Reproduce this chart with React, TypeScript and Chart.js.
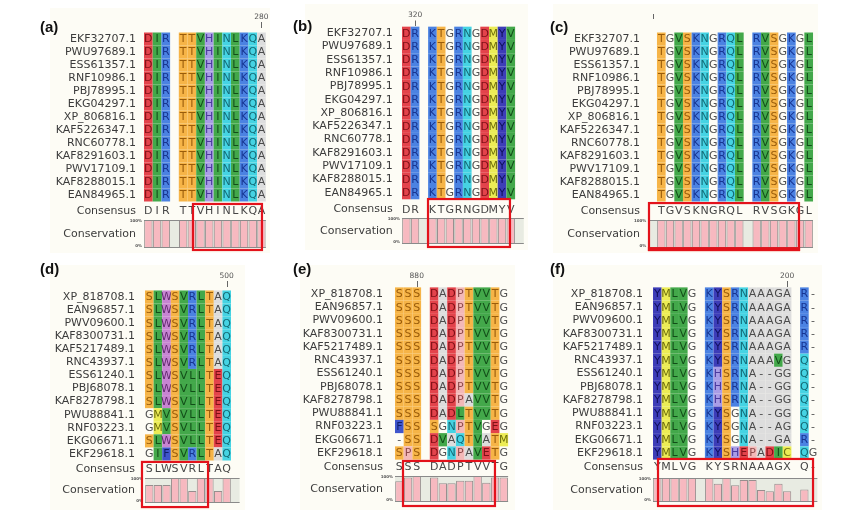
import React, { useEffect, useRef } from 'react';
import { Chart, registerables } from 'chart.js';

Chart.register(...registerables);
Chart.defaults.font.family = '"DejaVu Sans", sans-serif';

// ---------------- DATA ----------------
const NAMES_ABC = [
  'EKF32707.1', 'PWU97689.1', 'ESS61357.1', 'RNF10986.1', 'PBJ78995.1', 'EKG04297.1', 'XP_806816.1',
  'KAF5226347.1', 'RNC60778.1', 'KAF8291603.1', 'PWV17109.1', 'KAF8288015.1', 'EAN84965.1',
];
const NAMES_DEF = [
  'XP_818708.1', 'EAN96857.1', 'PWV09600.1', 'KAF8300731.1', 'KAF5217489.1', 'RNC43937.1', 'ESS61240.1',
  'PBJ68078.1', 'KAF8278798.1', 'PWU88841.1', 'RNF03223.1', 'EKG06671.1', 'EKF29618.1',
];

// "_" = alignment column with no residue drawn
const SEQ_A = [
  'DIR_TTVHINLKQA', 'DIR_TTVHINLKQA', 'DIR_TTVHINLKQA', 'DIR_TTVHINLKQA', 'DIR_TTVHINLKQA',
  'DIR_TTVHINLKQA', 'DIR_TTVHINLKQA', 'DIR_TTVHINLKQA', 'DIR_TTVHINLKQA', 'DIR_TTVHINLKQA',
  'DIR_TTVHINLKQA', 'DIR_TTVHINLKQA', 'DIR_TTVHINLKQA',
];
const CONSENSUS_A = 'DIR TTVHINLKQA';
const CONSERVATION_A = [100, 100, 100, null, 100, 100, 100, 100, 100, 100, 100, 100, 100, 100];
const TICK_A = { col: 13, label: '280' };

const SEQ_B = [
  'DR_KTGRNGDMYV_', 'DR_KTGRNGDMYV_', 'DR_KTGRNGDMYV_', 'DR_KTGRNGDMYV_', 'DR_KTGRNGDMYV_',
  'DR_KTGRNGDMYV_', 'DR_KTGRNGDMYV_', 'DR_KTGRNGDMYV_', 'DR_KTGRNGDMYV_', 'DR_KTGRNGDMYV_',
  'DR_KTGRNGDMYV_', 'DR_KTGRNGDMYV_', 'DR_KTGRNGDMYV_',
];
const CONSENSUS_B = 'DR KTGRNGDMYV ';
const CONSERVATION_B = [100, 100, null, 100, 100, 100, 100, 100, 100, 100, 100, 100, 100, null];
const TICK_B = { col: 1, label: '320' };

const SEQ_C = [
  '_TGVSKNGRQL_RVSGKGL', '_TGVSKNGRQL_RVSGKGL', '_TGVSKNGRQL_RVSGKGL', '_TGVSKNGRQL_RVSGKGL',
  '_TGVSKNGRQL_RVSGKGL', '_TGVSKNGRQL_RVSGKGL', '_TGVSKNGRQL_RVSGKGL', '_TGVSKNGRQL_RVSGKGL',
  '_TGVSKNGRQL_RVSGKGL', '_TGVSKNGRQL_RVSGKGL', '_TGVSKNGRQL_RVSGKGL', '_TGVSKNGRQL_RVSGKGL',
  '_TGVSKNGRQL_RVSGKGL',
];
const CONSENSUS_C = ' TGVSKNGRQL RVSGKGL';
const CONSERVATION_C = [null, 100, 100, 100, 100, 100, 100, 100, 100, 100, 100, null, 100, 100, 100, 100, 100, 100, 100];
const TICK_C = { col: 0, label: '' };

const SEQ_D = [
  'SLWSVRLTAQ_', 'SLWSVRLTAQ_', 'SLWSVRLTAQ_', 'SLWSVRLTAQ_', 'SLWSVRLTAQ_', 'SLWSVRLTAQ_',
  'SLWSVLLTEQ_', 'SLWSVLLTEQ_', 'SLWSVLLTEQ_', 'GMVSVLLTEQ_', 'GMVSVLLTEQ_', 'SLWSVLLTEQ_',
  'GIFSVRLTAQ_',
];
const CONSENSUS_D = 'SLWSVRLTAQ ';
const CONSERVATION_D = [72, 72, 72, 100, 100, 48, 100, 100, 48, 100, null];
const TICK_D = { col: 9, label: '500' };

const SEQ_E = [
  'SSS_DADPTVVTG', 'SSS_DADPTVVTG', 'SSS_DADPTVVTG', 'SSS_DADPTVVTG', 'SSS_DADPTVVTG',
  'SSS_DADPTVVTG', 'SSS_DADPTVVTG', 'SSS_DADPTVVTG', 'SSS_DADPAVVTG', 'SSS_DADLTVVTG',
  'FSS_SGNPTVGEG', '-SS_DVAQTVATM', 'SPS_DGNPAVETG',
];
const CONSENSUS_E = 'SSS DADPTVVTG';
const CONSERVATION_E = [80, 94, 100, null, 94, 72, 72, 82, 82, 100, 74, 94, 94];
const TICK_E = { col: 2, label: '880' };

const SEQ_F = [
  'YMLVG_KYSRNAAAGA_R-', 'YMLVG_KYSRNAAAGA_R-', 'YMLVG_KYSRNAAAGA_R-', 'YMLVG_KYSRNAAAGA_R-',
  'YMLVG_KYSRNAAAGA_R-', 'YMLVG_KYSRNAAAVG_Q-', 'YMLVG_KHSRNA--GG_Q-', 'YMLVG_KHSRNA--GG_Q-',
  'YMLVG_KHSRNA--GG_Q-', 'YMLVG_KYSGNA--GG_Q-', 'YMLVG_KYSGNA--AG_Q-', 'YMLVG_KYSGNA--GA_R-',
  'YMLVG_KYSHEPADIC_QG',
];
const CONSENSUS_F = 'YMLVG KYSRNAAAGX Q-';
const CONSERVATION_F = [100, 100, 100, 100, 100, null, 100, 76, 100, 70, 92, 92, 50, 45, 76, 45, null, 52, null];
const TICK_F = { col: 15, label: '200' };

// ---------------- STYLE / LAYOUT ----------------
type Col = { bg: string; fg: string };
const RED: Col = { bg: '#e3434b', fg: '#7d0f16' };
const GREEN: Col = { bg: '#43a84a', fg: '#124d18' };
const BLUE: Col = { bg: '#4b82e2', fg: '#173592' };
const ORANGE: Col = { bg: '#f6b447', fg: '#9a5c0a' };
const CYAN: Col = { bg: '#45d3e3', fg: '#146a75' };
const LAV: Col = { bg: '#a99de6', fg: '#4b3a9e' };
const MAG: Col = { bg: '#c784d2', fg: '#632a70' };
const YEL: Col = { bg: '#ecec55', fg: '#6e6e0c' };
const INDIGO: Col = { bg: '#3d3db8', fg: '#0f0f5c' };
const FBLUE: Col = { bg: '#3f55cc', fg: '#101e6a' };
const PINK: Col = { bg: '#f3b8b8', fg: '#8e4a4a' };
const GRAY: Col = { bg: '#dddddd', fg: '#4a4a4a' };
const PALETTE: Record<string, Col> = {
  D: RED, E: RED, I: GREEN, L: GREEN, V: GREEN, R: BLUE, K: BLUE, S: ORANGE, T: ORANGE,
  N: CYAN, Q: CYAN, H: LAV, W: MAG, M: YEL, C: YEL, Y: INDIGO, F: FBLUE, P: PINK, A: GRAY,
};

type Layout = {
  left: number; top: number; width: number; height: number;
  gridX0: number; cw: number; row0: number; pitch: number;
  consY: number; bandTop: number; bandBot: number; namePad: number;
  labelX: number; labelY: number; tickTextY: number; pipe: [number, number];
  box: { c0: number; c1: number; r0: number; r1: number; bottomW?: number };
  grayCols?: number[];
};

type Panel = {
  key: string; label: string; names: string[]; seqs: string[]; consensus: string;
  conservation: (number | null)[]; tick: { col: number; label: string }; L: Layout;
};

const PANELS: Panel[] = [
  {
    key: 'a', label: '(a)', names: NAMES_ABC, seqs: SEQ_A, consensus: CONSENSUS_A, conservation: CONSERVATION_A, tick: TICK_A,
    L: { left: 50, top: 8, width: 220, height: 245, gridX0: 144, cw: 8.7, row0: 39, pitch: 13, consY: 211, bandTop: 220, bandBot: 248,
      namePad: 8, labelX: 40, labelY: 18, tickTextY: 17.5, pipe: [22, 28], box: { c0: 5.63, c1: 13.56, r0: 12.69, r1: 16.23 } },
  },
  {
    key: 'b', label: '(b)', names: NAMES_ABC, seqs: SEQ_B, consensus: CONSENSUS_B, conservation: CONSERVATION_B, tick: TICK_B,
    L: { left: 305, top: 4, width: 223, height: 246, gridX0: 402, cw: 8.7, row0: 33.3, pitch: 13.28, consY: 209.3, bandTop: 218.3, bandBot: 244,
      namePad: 9.3, labelX: 293, labelY: 17, tickTextY: 15.5, pipe: [20.5, 26], box: { c0: 2.99, c1: 12.41, r0: 12.48, r1: 16.09 } },
  },
  {
    key: 'c', label: '(c)', names: NAMES_ABC, seqs: SEQ_C, consensus: CONSENSUS_C, conservation: CONSERVATION_C, tick: TICK_C,
    L: { left: 553, top: 4, width: 265, height: 249, gridX0: 648.3, cw: 8.67, row0: 39, pitch: 13, consY: 211, bandTop: 220, bandBot: 248,
      namePad: 8.3, labelX: 550, labelY: 18, tickTextY: 12, pipe: [14, 19], box: { c0: 0.08, c1: 17.38, r0: 12.62, r1: 16.23, bottomW: 4 } },
  },
  {
    key: 'd', label: '(d)', names: NAMES_DEF, seqs: SEQ_D, consensus: CONSENSUS_D, conservation: CONSERVATION_D, tick: TICK_D,
    L: { left: 50, top: 265, width: 195, height: 245, gridX0: 145, cw: 8.6, row0: 297, pitch: 13.08, consY: 469, bandTop: 478, bandBot: 503,
      namePad: 10, labelX: 40, labelY: 260, tickTextY: 276.5, pipe: [281, 287], box: { c0: -0.35, c1: 7.33, r0: 12.61, r1: 16.06 } },
  },
  {
    key: 'e', label: '(e)', names: NAMES_DEF, seqs: SEQ_E, consensus: CONSENSUS_E, conservation: CONSERVATION_E, tick: TICK_E,
    L: { left: 300, top: 265, width: 215, height: 245, gridX0: 395, cw: 8.7, row0: 294, pitch: 13.25, consY: 467, bandTop: 476, bandBot: 502,
      namePad: 12, labelX: 293, labelY: 260, tickTextY: 276, pipe: [281, 287], box: { c0: 0.92, c1: 11.49, r0: 12.6, r1: 16.0 } },
  },
  {
    key: 'f', label: '(f)', names: NAMES_DEF, seqs: SEQ_F, consensus: CONSENSUS_F, conservation: CONSERVATION_F, tick: TICK_F,
    L: { left: 553, top: 265, width: 269, height: 245, gridX0: 653, cw: 8.65, row0: 294, pitch: 13.25, consY: 467, bandTop: 478, bandBot: 502,
      namePad: 10, labelX: 550, labelY: 260, tickTextY: 276, pipe: [281, 287], box: { c0: 0.58, c1: 18.5, r0: 12.45, r1: 16.0 },
      grayCols: [11, 12, 13, 14, 15] },
  },
];

function makePlugin(p: Panel) {
  const L = p.L;
  const consV = (L.consY - L.row0) / L.pitch;
  return {
    id: 'msa_' + p.key,
    beforeDraw(chart: any) {
      const ctx = chart.ctx;
      ctx.save();
      ctx.fillStyle = '#fdfcf5';
      ctx.fillRect(0, 0, chart.width, chart.height);
      ctx.restore();
    },
    beforeDatasetsDraw(chart: any) {
      const { ctx, chartArea, scales } = chart;
      const x = scales.x, y = scales.y, c = scales.cons;
      ctx.save();
      const bt = c.getPixelForValue(100), bb = c.getPixelForValue(0);
      ctx.fillStyle = '#e8ebe2';
      ctx.fillRect(chartArea.left, bt, chartArea.right - chartArea.left, bb - bt);
      ctx.font = '11px "DejaVu Sans"';
      ctx.textAlign = 'center';
      ctx.textBaseline = 'middle';
      p.seqs.forEach((s, r) => {
        for (let i = 0; i < s.length; i++) {
          const ch = s[i];
          if (ch === '_') continue;
          const xl = x.getPixelForValue(i - 0.5), xr = x.getPixelForValue(i + 0.5);
          const yt = y.getPixelForValue(r - 0.5), yb = y.getPixelForValue(r + 0.5);
          let col: Col | undefined = PALETTE[ch];
          if (!col && L.grayCols && L.grayCols.includes(i)) col = GRAY;
          if (col) {
            ctx.fillStyle = col.bg;
            ctx.fillRect(xl, yt, xr - xl, yb - yt);
          }
          ctx.fillStyle = col ? col.fg : '#505050';
          ctx.fillText(ch, (xl + xr) / 2, (yt + yb) / 2 + 0.5);
        }
      });
      ctx.fillStyle = '#474747';
      const cy = y.getPixelForValue(consV);
      for (let i = 0; i < p.consensus.length; i++) {
        const ch = p.consensus[i];
        if (ch === ' ') continue;
        ctx.fillText(ch, x.getPixelForValue(i), cy + 0.5);
      }
      ctx.restore();
    },
    afterDatasetsDraw(chart: any) {
      const { ctx, chartArea, scales } = chart;
      const x = scales.x, y = scales.y, c = scales.cons;
      ctx.save();
      const bt = c.getPixelForValue(100), bb = c.getPixelForValue(0);
      ctx.strokeStyle = '#8a8a8a';
      ctx.lineWidth = 1;
      ctx.beginPath();
      ctx.moveTo(chartArea.left, Math.round(bt) + 0.5);
      ctx.lineTo(chartArea.right, Math.round(bt) + 0.5);
      ctx.moveTo(chartArea.left, Math.round(bb) - 0.5);
      ctx.lineTo(chartArea.right, Math.round(bb) - 0.5);
      ctx.stroke();
      // tiny percentage labels
      ctx.fillStyle = '#555';
      ctx.font = 'bold 4px "DejaVu Sans"';
      ctx.textAlign = 'right';
      ctx.textBaseline = 'middle';
      ctx.fillText('100%', chartArea.left - 2, bt + 1);
      ctx.fillText('0%', chartArea.left - 2, bb - 2);
      // position tick
      const tx = x.getPixelForValue(p.tick.col);
      ctx.fillStyle = '#555';
      ctx.font = '7.5px "DejaVu Sans"';
      ctx.textAlign = 'center';
      if (p.tick.label) ctx.fillText(p.tick.label, tx, L.tickTextY - L.top);
      ctx.strokeStyle = '#666';
      ctx.beginPath();
      ctx.moveTo(Math.round(tx) + 0.5, L.pipe[0] - L.top);
      ctx.lineTo(Math.round(tx) + 0.5, L.pipe[1] - L.top);
      ctx.stroke();
      // highlight box
      const b = L.box;
      const x0 = x.getPixelForValue(b.c0 - 0.5), x1 = x.getPixelForValue(b.c1 - 0.5);
      const y0 = y.getPixelForValue(b.r0), y1 = y.getPixelForValue(b.r1);
      ctx.strokeStyle = '#e3121b';
      ctx.lineWidth = 2.2;
      ctx.strokeRect(x0, y0, x1 - x0, y1 - y0);
      if (b.bottomW) {
        ctx.fillStyle = '#e3121b';
        ctx.fillRect(x0 - 1.1, y1 - b.bottomW + 1.1, x1 - x0 + 2.2, b.bottomW);
      }
      ctx.restore();
    },
  };
}

function PanelChart({ p }: { p: Panel }) {
  const ref = useRef<HTMLCanvasElement | null>(null);
  useEffect(() => {
    const L = p.L;
    const ncols = p.seqs[0].length;
    const gridTop = L.row0 - L.pitch / 2;
    const padTop = gridTop - L.top;
    const padBottom = L.top + L.height - L.bandBot;
    const yAxisW = L.gridX0 - L.left;
    const padRight = L.left + L.width - (L.gridX0 + ncols * L.cw);
    const yMax = (L.bandBot - L.row0) / L.pitch;
    const consMax = (100 * (L.bandBot - gridTop)) / (L.bandBot - L.bandTop);
    const consV = (L.consY - L.row0) / L.pitch;
    const bandMidV = ((L.bandTop + L.bandBot) / 2 - L.row0) / L.pitch;
    const tickVals = [...p.names.map((_, i) => i), consV, bandMidV];
    const tickLabels = [...p.names, 'Consensus', 'Conservation'];

    const chart = new Chart(ref.current as HTMLCanvasElement, {
      type: 'bar',
      data: {
        labels: p.consensus.split(''),
        datasets: [
          {
            data: p.conservation as any,
            yAxisID: 'cons',
            backgroundColor: '#f7b9c0',
            borderColor: '#978e8e',
            borderWidth: 1,
            borderSkipped: 'start',
            barPercentage: 0.96,
            categoryPercentage: 1,
          },
        ],
      },
      options: {
        responsive: false,
        animation: false,
        events: [],
        layout: { padding: { left: 0, top: padTop, right: padRight, bottom: padBottom } },
        plugins: { legend: { display: false }, tooltip: { enabled: false }, title: { display: false } },
        scales: {
          x: { type: 'category', display: false, offset: true, grid: { display: false } },
          y: {
            type: 'linear',
            position: 'left',
            min: -0.5,
            max: yMax,
            reverse: true,
            afterFit: (s: any) => {
              s.width = yAxisW;
              s.paddingTop = 0;
              s.paddingBottom = 0;
            },
            afterBuildTicks: (s: any) => {
              s.ticks = tickVals.map((v) => ({ value: v }));
            },
            ticks: {
              autoSkip: false,
              padding: L.namePad,
              color: '#3c3c3c',
              font: { family: '"DejaVu Sans"', size: 11 },
              callback: (_v: any, i: number) => tickLabels[i],
            },
            grid: { display: false, drawTicks: false },
            border: { display: false },
          },
          cons: { type: 'linear', display: false, min: 0, max: consMax, position: 'left' },
        },
      } as any,
      plugins: [makePlugin(p)],
    });
    return () => chart.destroy();
  }, [p]);
  return (
    <canvas
      ref={ref}
      width={p.L.width}
      height={p.L.height}
      style={{ position: 'absolute', left: p.L.left, top: p.L.top, width: p.L.width, height: p.L.height }}
    />
  );
}

export default function App() {
  return (
    <div style={{ position: 'absolute', left: 0, top: 0, width: 858, height: 512, background: '#ffffff', overflow: 'hidden' }}>
      {PANELS.map((p) => (
        <PanelChart key={p.key} p={p} />
      ))}
      {PANELS.map((p) => (
        <div
          key={'lbl' + p.key}
          style={{
            position: 'absolute', left: p.L.labelX, top: p.L.labelY, zIndex: 2,
            font: 'bold 15px "Liberation Sans", Arial, sans-serif', lineHeight: '17px', color: '#111',
          }}
        >
          {p.label}
        </div>
      ))}
    </div>
  );
}
